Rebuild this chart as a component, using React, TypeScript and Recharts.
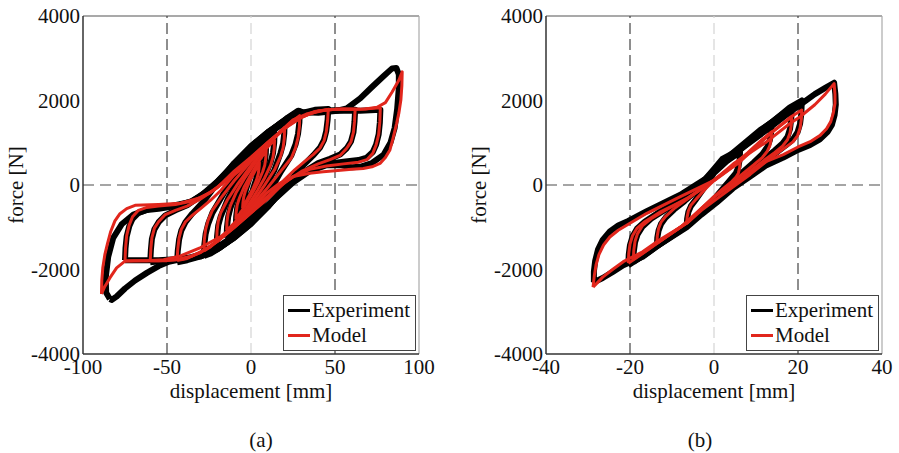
import React from 'react';
import { LineChart, Line, XAxis, YAxis, ReferenceLine, Legend } from 'recharts';

type Pt = [number, number];

// axes
const forceTicks = [-4000, -2000, 0, 2000, 4000];
const dispTicksA = [-100, -50, 0, 50, 100];
const dispTicksB = [-40, -20, 0, 20, 40];
const seriesNames = ['Experiment', 'Model'];
const captions = ['(a)', '(b)'];

// panel (a): experiment loops, displacement [mm] vs force [N]
const expA: Pt[][] = [
  [[-5, -650], [-4.8, -480], [-4.3, -320], [-3.3, -150], [-1, 150], [2, 420], [5, 680], [4.8, 500], [4.3, 340], [3.3, 170], [1, -130], [-2, -400], [-5, -650]],
  [[-9, -950], [-8.8, -740], [-8.2, -540], [-7, -360], [-4, 0], [0, 350], [4, 650], [9, 950], [8.8, 740], [8.2, 540], [7, 360], [4, 0], [0, -350], [-4, -650], [-9, -950]],
  [[-14.5, -1250], [-14.3, -1000], [-13.6, -760], [-12.2, -540], [-9, -200], [-4, 220], [0, 520], [5, 830], [10, 1070], [14, 1230], [13.8, 1000], [13.1, 760], [11.7, 540], [8, 180], [4, -200], [0, -520], [-5, -830], [-10, -1070], [-14.5, -1250]],
  [[-20.4, -1480], [-20.2, -1220], [-19.5, -960], [-18, -740], [-14, -350], [-8, 120], [-4, 400], [0, 660], [5, 930], [10, 1160], [15, 1340], [20, 1480], [19.8, 1220], [19.1, 980], [17.6, 760], [14, 360], [8, -100], [4, -400], [0, -660], [-5, -930], [-10, -1160], [-15, -1340], [-20.4, -1480]],
  [[-28, -1680], [-27.8, -1420], [-27, -1160], [-25.5, -920], [-23, -660], [-18, -320], [-10, 220], [-5, 520], [0, 800], [5, 1030], [10, 1230], [18, 1480], [24, 1640], [29, 1740], [28.8, 1480], [28, 1210], [26.5, 960], [24, 700], [18, 330], [10, -230], [5, -530], [0, -800], [-5, -1030], [-10, -1230], [-18, -1470], [-24, -1620], [-28, -1680]],
  [[-44, -1830], [-43.6, -1560], [-42.8, -1290], [-41.5, -1080], [-39, -880], [-35, -680], [-28, -380], [-20, 40], [-10, 520], [0, 920], [10, 1250], [20, 1520], [30, 1700], [38, 1780], [46, 1800], [45.6, 1540], [44.8, 1280], [43.5, 1070], [41, 880], [37, 700], [30, 420], [20, -50], [10, -520], [0, -920], [-10, -1250], [-20, -1510], [-30, -1690], [-38, -1780], [-44, -1830]],
  [[-60, -1830], [-59.6, -1540], [-59, -1280], [-57.5, -1050], [-55, -880], [-51, -720], [-45, -600], [-38, -480], [-30, -260], [-20, 80], [-10, 500], [0, 910], [10, 1250], [20, 1530], [30, 1700], [40, 1760], [50, 1770], [62, 1780], [61.6, 1500], [61, 1250], [59.5, 1030], [57, 870], [53, 720], [47, 620], [40, 520], [30, 270], [20, -80], [10, -510], [0, -910], [-10, -1250], [-20, -1520], [-30, -1690], [-40, -1760], [-50, -1790], [-60, -1830]],
  [[-75, -1780], [-74.7, -1500], [-74, -1220], [-72.5, -980], [-70.5, -800], [-67, -660], [-62, -590], [-55, -560], [-45, -500], [-35, -380], [-25, -120], [-15, 280], [-5, 680], [5, 1060], [15, 1380], [25, 1620], [35, 1720], [45, 1750], [55, 1760], [65, 1760], [77, 1780], [76.7, 1480], [76, 1200], [74.5, 960], [72.5, 780], [69, 650], [64, 590], [55, 550], [45, 500], [35, 370], [25, 120], [15, -280], [5, -680], [-5, -1060], [-15, -1380], [-25, -1610], [-35, -1720], [-45, -1760], [-55, -1780], [-65, -1780], [-75, -1780]],
  [[-84, -2700], [-86.2, -2550], [-86.5, -2200], [-85, -1700], [-82, -1250], [-77, -930], [-70, -700], [-60, -560], [-48, -500], [-36, -400], [-25, -150], [-15, 230], [-5, 640], [5, 1030], [15, 1370], [22, 1600], [28, 1760], [31, 1720], [40, 1710], [50, 1750], [57, 1815], [65, 2050], [72, 2320], [79, 2580], [84, 2760], [86.5, 2770], [88, 2620], [88, 2300], [87, 1800], [85.5, 1350], [83, 1000], [79, 720], [72, 520], [65, 430], [60, 420], [53, 470], [45, 470], [35, 330], [25, 60], [15, -300], [5, -680], [-5, -1040], [-15, -1360], [-25, -1580], [-35, -1700], [-42, -1760], [-49, -1815], [-55, -1920], [-62, -2080], [-69, -2260], [-75, -2450], [-80, -2640], [-83, -2720], [-84, -2700]],
];

// panel (a): model loops
const modelA: Pt[][] = [
  [[-5, -550], [-4.8, -420], [-4.3, -280], [-3.3, -140], [-1, 80], [2, 300], [5, 530], [4.8, 400], [4.3, 260], [3.3, 120], [1, -100], [-2, -320], [-5, -550]],
  [[-9, -820], [-8.8, -640], [-8.2, -470], [-7, -320], [-4, -40], [0, 250], [4, 520], [9, 820], [8.8, 640], [8.2, 470], [7, 320], [4, 40], [0, -250], [-4, -520], [-9, -820]],
  [[-14.5, -1080], [-14.3, -870], [-13.6, -670], [-12.2, -480], [-9, -190], [-4, 150], [0, 380], [5, 680], [10, 900], [14, 1060], [13.8, 850], [13.1, 660], [11.7, 470], [8, 160], [4, -120], [0, -380], [-5, -680], [-10, -900], [-14.5, -1080]],
  [[-20.4, -1320], [-20.2, -1080], [-19.5, -860], [-18, -660], [-14, -350], [-8, 20], [-4, 240], [0, 460], [5, 720], [10, 950], [15, 1160], [20, 1360], [19.8, 1100], [19.1, 880], [17.6, 680], [14, 360], [8, -10], [4, -240], [0, -460], [-5, -720], [-10, -950], [-15, -1160], [-20.4, -1320]],
  [[-28, -1560], [-27.8, -1300], [-27, -1050], [-25.5, -830], [-23, -600], [-18, -310], [-10, 100], [-5, 330], [0, 560], [5, 770], [10, 970], [18, 1270], [24, 1490], [29, 1640], [28.8, 1380], [28, 1120], [26.5, 880], [24, 640], [18, 340], [10, -60], [5, -290], [0, -520], [-5, -740], [-10, -950], [-18, -1250], [-24, -1460], [-28, -1560]],
  [[-44, -1790], [-43.6, -1520], [-42.8, -1250], [-41.5, -1050], [-39, -870], [-35, -720], [-30, -560], [-24, -360], [-18, -130], [-10, 240], [0, 640], [10, 1010], [20, 1340], [30, 1600], [38, 1740], [46, 1790], [45.6, 1520], [44.8, 1250], [43.5, 1050], [41, 870], [37, 720], [32, 560], [26, 360], [20, 130], [10, -280], [0, -660], [-10, -1010], [-20, -1330], [-30, -1590], [-38, -1740], [-44, -1790]],
  [[-60, -1790], [-59.6, -1500], [-59, -1250], [-57.5, -1020], [-55, -870], [-51, -700], [-45, -600], [-38, -500], [-30, -330], [-20, -60], [-10, 330], [0, 660], [10, 1010], [20, 1350], [30, 1610], [40, 1750], [50, 1790], [62, 1790], [61.6, 1500], [61, 1250], [59.5, 1020], [57, 870], [53, 700], [47, 600], [40, 500], [30, 320], [20, 60], [10, -330], [0, -660], [-10, -1000], [-20, -1340], [-30, -1600], [-40, -1750], [-50, -1790], [-60, -1790]],
  [[-75, -1800], [-74.7, -1500], [-74, -1200], [-72.5, -950], [-70.5, -750], [-67, -600], [-62, -530], [-55, -500], [-45, -460], [-35, -380], [-25, -200], [-15, 100], [-5, 430], [5, 790], [15, 1160], [25, 1500], [35, 1690], [45, 1780], [55, 1800], [65, 1790], [77, 1830], [76.7, 1500], [76, 1200], [74.5, 950], [72.5, 750], [69, 600], [64, 540], [55, 500], [45, 450], [35, 370], [25, 200], [15, -100], [5, -430], [-5, -790], [-15, -1160], [-25, -1480], [-35, -1680], [-45, -1770], [-55, -1790], [-65, -1790], [-75, -1800]],
  [[-89, -2580], [-88.8, -2250], [-88.2, -1950], [-87, -1650], [-85.5, -1400], [-83.5, -1100], [-81, -850], [-78, -680], [-74, -560], [-69, -480], [-55, -460], [-42, -430], [-30, -300], [-22, -120], [-15, 100], [-6.5, 355], [0, 580], [9, 907], [17, 1250], [25, 1540], [33, 1680], [41, 1760], [50, 1790], [60, 1790], [68, 1800], [75, 1840], [80, 1950], [84, 2200], [88, 2480], [90, 2680], [89.8, 2350], [89.2, 2010], [88, 1700], [86.7, 1460], [84.5, 1100], [82.7, 830], [80, 650], [76.8, 510], [72, 430], [66.8, 390], [60, 370], [50, 340], [43, 315], [35, 280], [25, 200], [17, 40], [9, -200], [3, -450], [-3, -700], [-10, -960], [-18, -1220], [-30, -1480], [-42, -1680], [-52, -1770], [-62, -1790], [-70, -1790], [-75, -1800], [-80, -1960], [-84, -2200], [-87, -2400], [-89, -2580]],
];

// panel (b): experiment loops
const expB: Pt[][] = [
  [[-6.5, -980], [-6.4, -800], [-6.1, -640], [-5.5, -500], [-4.3, -340], [-2, -20], [0, 280], [3, 560], [6.2, 780], [6.1, 600], [5.8, 420], [5.2, 280], [4, 140], [2, -100], [0, -330], [-3, -630], [-6.5, -980]],
  [[-13.6, -1450], [-13.5, -1250], [-13.2, -1080], [-12.6, -920], [-11.5, -770], [-9.5, -580], [-7, -380], [-4, -120], [0, 330], [4, 720], [8, 1050], [11, 1300], [13.7, 1480], [13.6, 1250], [13.3, 1060], [12.7, 900], [11.5, 730], [9.5, 540], [7, 320], [4, 40], [0, -340], [-4, -720], [-8, -1080], [-11, -1280], [-13.6, -1450]],
  [[-19.2, -1820], [-19.1, -1580], [-18.8, -1360], [-18.2, -1170], [-17, -980], [-15, -800], [-12, -610], [-6, -240], [0, 330], [6, 830], [12, 1360], [16, 1660], [18.5, 1830], [18.4, 1580], [18.1, 1330], [17.5, 1140], [16.3, 980], [14.5, 820], [12, 620], [6, 130], [0, -340], [-6, -930], [-12, -1340], [-16, -1620], [-19.2, -1820]],
  [[-20.4, -1900], [-20.3, -1650], [-20, -1420], [-19.4, -1220], [-18.3, -1030], [-16.5, -870], [-13, -640], [-6.5, -270], [0, 330], [6.2, 830], [13.7, 1480], [18, 1830], [20.9, 2000], [20.8, 1700], [20.5, 1450], [19.9, 1250], [18.8, 1080], [17, 930], [13.7, 680], [6.2, 130], [0, -350], [-6.5, -960], [-13.6, -1440], [-17, -1680], [-20.4, -1900]],
  [[-28.6, -2300], [-28.6, -2050], [-28.3, -1800], [-27.6, -1520], [-26.5, -1300], [-24.8, -1100], [-22.8, -960], [-20.4, -850], [-16, -620], [-8, -230], [-2, 150], [0, 380], [2, 620], [6.2, 840], [12.5, 1300], [18, 1720], [20.5, 1900], [24, 2150], [26.5, 2300], [28.6, 2420], [28.9, 2150], [29, 1900], [28.7, 1650], [28.1, 1430], [27, 1250], [25.2, 1080], [22.9, 950], [20, 830], [16.5, 650], [12.5, 470], [8.6, 200], [4.5, -80], [0.6, -420], [-3, -700], [-6.5, -1000], [-13.6, -1450], [-17, -1700], [-21.6, -1900], [-24, -2050], [-26.5, -2200], [-28.6, -2300]],
];

// panel (b): model loops
const modelB: Pt[][] = [
  [[-6.5, -907], [-6.4, -760], [-6.1, -610], [-5.5, -480], [-4.3, -340], [-2, -90], [0, 110], [3, 330], [6.2, 550], [6.1, 410], [5.8, 280], [5.2, 180], [4, 60], [2, -100], [0, -280], [-3, -560], [-6.5, -907]],
  [[-13.6, -1380], [-13.5, -1200], [-13.2, -1030], [-12.6, -880], [-11.5, -740], [-9.5, -560], [-7, -380], [-4, -160], [0, 120], [4, 430], [8, 760], [11, 1030], [13.7, 1260], [13.6, 1080], [13.3, 930], [12.7, 800], [11.5, 650], [9.5, 480], [7, 280], [4, 40], [0, -280], [-4, -640], [-8, -1000], [-11, -1200], [-13.6, -1380]],
  [[-19.2, -1760], [-19.1, -1550], [-18.8, -1330], [-18.2, -1150], [-17, -960], [-15, -800], [-12, -620], [-6, -290], [0, 110], [6, 560], [12, 1110], [16, 1420], [18.5, 1610], [18.4, 1420], [18.1, 1230], [17.5, 1070], [16.3, 920], [14.5, 770], [12, 590], [6, 130], [0, -280], [-6, -860], [-12, -1270], [-16, -1550], [-19.2, -1760]],
  [[-20.4, -1850], [-20.3, -1620], [-20, -1400], [-19.4, -1200], [-18.3, -1020], [-16.5, -870], [-13, -650], [-6.5, -330], [0, 100], [6.2, 550], [13.7, 1240], [18, 1590], [20.9, 1775], [20.8, 1560], [20.5, 1350], [19.9, 1170], [18.8, 1020], [17, 890], [13.7, 650], [6.2, 120], [0, -280], [-6.5, -900], [-13.6, -1380], [-17, -1620], [-20.4, -1850]],
  [[-28.8, -2420], [-28.5, -2150], [-28.1, -1900], [-27.4, -1650], [-26.3, -1420], [-24.8, -1230], [-22.8, -1070], [-20.4, -930], [-16, -670], [-8, -275], [0, 110], [4.6, 500], [12.5, 1020], [18, 1450], [20.5, 1615], [24, 1900], [26.5, 2150], [28.6, 2400], [28.8, 2150], [28.8, 1930], [28.4, 1700], [27.8, 1500], [26.8, 1330], [25.2, 1170], [22.9, 1025], [20, 900], [16.5, 720], [12.5, 560], [8.6, 250], [4.5, -50], [0.6, -330], [-3, -600], [-6.5, -907], [-13.6, -1340], [-17, -1580], [-21.6, -1815], [-24, -1990], [-26.5, -2180], [-28.8, -2420]],
];

const RED = '#e1261c';
const FONT = "'Liberation Serif', 'Times New Roman', serif";
const tickStyle = { fontFamily: FONT, fontSize: 21, fill: '#111' };
const labelStyle = { fontFamily: FONT, fontSize: 21, fill: '#111' };

const toRows = (loop: Pt[]) => loop.map(([x, f]) => ({ x, f }));

const LegendBox = () => (
  <div
    style={{
      width: 133,
      height: 56,
      boxSizing: 'border-box',
      border: '1.5px solid #444',
      background: '#fff',
      fontFamily: FONT,
      fontSize: 21,
      color: '#111',
      padding: '2px 0 0 4px',
      lineHeight: '25px',
    }}
  >
    {seriesNames.map((name, i) => (
      <div key={name} style={{ display: 'flex', alignItems: 'center' }}>
        <span style={{ display: 'inline-block', width: 22, height: 3, background: i === 0 ? '#000' : RED, marginRight: 2 }} />
        <span>{name}</span>
      </div>
    ))}
  </div>
);

interface PanelProps {
  width: number;
  marginRight: number;
  xTicks: number[];
  dash: number;
  expLoops: Pt[][];
  modelLoops: Pt[][];
}

const Panel = ({ width, marginRight, xTicks, dash, expLoops, modelLoops }: PanelProps) => {
  const xMin = xTicks[0];
  const xMax = xTicks[xTicks.length - 1];
  return (
    <LineChart
      width={width}
      height={420}
      margin={{ top: 16, right: marginRight, bottom: 20, left: 0 }}
      style={{ fontFamily: FONT }}
    >
      <XAxis
        type="number"
        dataKey="x"
        domain={[xMin, xMax]}
        ticks={xTicks}
        interval={0}
        allowDataOverflow
        height={46}
        tickSize={0}
        tickMargin={5}
        tick={tickStyle}
        axisLine={{ stroke: '#333', strokeWidth: 1.5 }}
        label={{ value: 'displacement [mm]', position: 'insideBottom', offset: 2, style: labelStyle }}
      />
      <YAxis
        type="number"
        domain={[-4000, 4000]}
        ticks={forceTicks}
        interval={0}
        allowDataOverflow
        width={83}
        tickSize={0}
        tickMargin={3}
        tick={tickStyle}
        axisLine={{ stroke: '#333', strokeWidth: 1.5 }}
        label={{ value: 'force [N]', angle: -90, position: 'insideLeft', offset: 16, style: { ...labelStyle, textAnchor: 'middle' } }}
      />
      <ReferenceLine y={4000} stroke="#555" strokeWidth={1.2} />
      <ReferenceLine x={xMax} stroke="#aaa" strokeWidth={1.2} />
      <ReferenceLine x={0} stroke="#d4d4d4" strokeWidth={1.2} strokeDasharray="11 5" />
      <ReferenceLine x={-dash} stroke="#444" strokeWidth={1.2} strokeDasharray="11 5" />
      <ReferenceLine x={dash} stroke="#444" strokeWidth={1.2} strokeDasharray="11 5" />
      <ReferenceLine y={0} stroke="#888" strokeWidth={1.6} strokeDasharray="11 6" />
      {expLoops.map((loop, i) => (
        <Line
          key={`exp-${i}`}
          data={toRows(loop)}
          dataKey="f"
          type="linear"
          stroke="#000"
          strokeWidth={6}
          strokeLinejoin="round"
          dot={false}
          activeDot={false}
          legendType="none"
          isAnimationActive={false}
        />
      ))}
      {modelLoops.map((loop, i) => (
        <Line
          key={`model-${i}`}
          data={toRows(loop)}
          dataKey="f"
          type="linear"
          stroke={RED}
          strokeWidth={3}
          strokeLinejoin="round"
          dot={false}
          activeDot={false}
          legendType="none"
          isAnimationActive={false}
        />
      ))}
      <Legend
        layout="horizontal"
        align="center"
        verticalAlign="middle"
        wrapperStyle={{ left: width - marginRight - 136, top: 295, width: 133, height: 56 }}
        content={() => <LegendBox />}
      />
    </LineChart>
  );
};

const captionStyle: React.CSSProperties = {
  position: 'absolute',
  top: 428,
  width: 60,
  textAlign: 'center',
  fontFamily: FONT,
  fontSize: 21,
  color: '#111',
  lineHeight: '24px',
};

export default function App() {
  return (
    <div style={{ position: 'absolute', left: 0, top: 0, width: 899, height: 453, background: '#fff', overflow: 'hidden' }}>
      <div style={{ position: 'absolute', left: 0, top: 0 }}>
        <Panel width={450} marginRight={31} xTicks={dispTicksA} dash={50} expLoops={expA} modelLoops={modelA} />
      </div>
      <div style={{ position: 'absolute', left: 463, top: 0 }}>
        <Panel width={436} marginRight={17} xTicks={dispTicksB} dash={20} expLoops={expB} modelLoops={modelB} />
      </div>
      <div style={{ ...captionStyle, left: 231 }}>{captions[0]}</div>
      <div style={{ ...captionStyle, left: 670 }}>{captions[1]}</div>
    </div>
  );
}
